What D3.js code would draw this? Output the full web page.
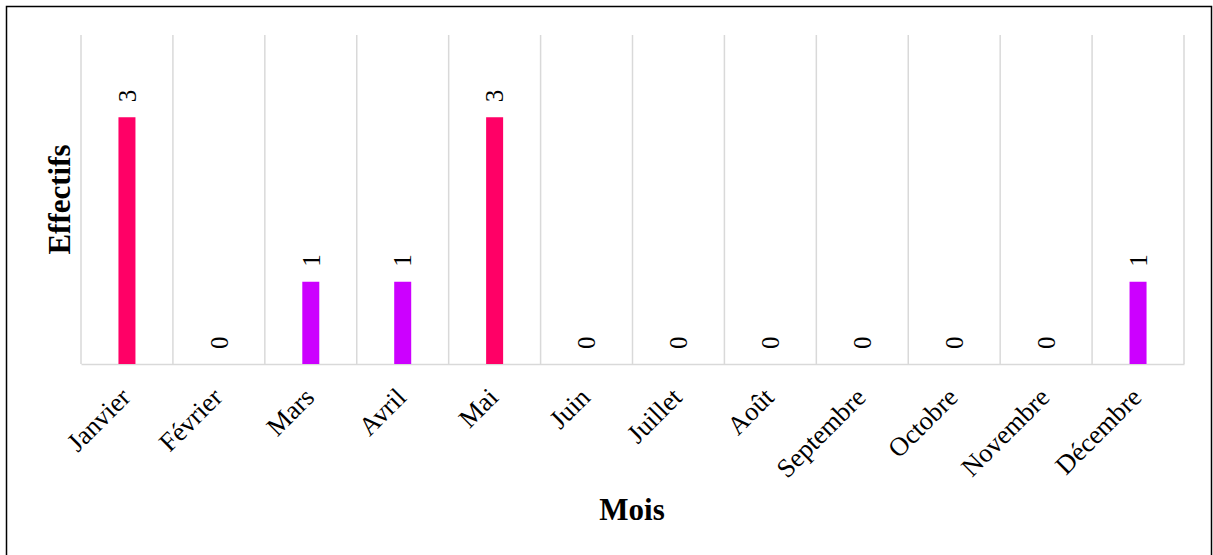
<!DOCTYPE html>
<html>
<head>
<meta charset="utf-8">
<script src="https://cdn.jsdelivr.net/npm/d3@7"></script>
<style>
  html, body { margin: 0; padding: 0; background: #fff; }
  svg { display: block; }
  svg text { font-family: "Liberation Serif", "Times New Roman", serif; fill: #000; }
</style>
</head>
<body>
<svg id="chart" width="1213" height="555"></svg>
<script>
// Effectifs par mois
const months = ["Janvier", "Février", "Mars", "Avril", "Mai", "Juin", "Juillet",
                "Août", "Septembre", "Octobre", "Novembre", "Décembre"];
const counts = [3, 0, 1, 1, 3, 0, 0, 0, 0, 0, 0, 1];
const countDomain = [0, 4];

const W = 1213, H = 555;
const plot = { left: 81, right: 1184, top: 35, bottom: 364 };
const serif = "Liberation Serif";

const svg = d3.select("#chart");

// outer frame
svg.append("rect")
  .attr("x", 6.5).attr("y", 6.5)
  .attr("width", 1205).attr("height", H + 10)
  .attr("fill", "none").attr("stroke", "#000").attr("stroke-width", 1.5);

const x = d3.scaleBand().domain(months).range([plot.left, plot.right]).padding(0);
const y = d3.scaleLinear().domain(countDomain).range([plot.bottom, plot.top]);

// bar colour by value
const colour = d3.scaleOrdinal().domain([3, 1]).range(["#FF0066", "#CC00FF"]);

// vertical gridlines at category boundaries
const bounds = months.map(m => x(m)).concat([x(months[months.length - 1]) + x.bandwidth()]);
svg.append("g").selectAll("line").data(bounds).join("line")
  .attr("x1", d => d).attr("x2", d => d)
  .attr("y1", y(countDomain[1])).attr("y2", y(0))
  .attr("stroke", "#d9d9d9").attr("stroke-width", 1.5);

// category axis
const xAxis = svg.append("g")
  .attr("transform", `translate(0,${y(0)})`)
  .call(d3.axisBottom(x).tickSize(0).tickPadding(0))
  .attr("font-family", serif)
  .attr("font-size", 26.5);
xAxis.select(".domain").attr("stroke", "#d9d9d9").attr("stroke-width", 1.5);
xAxis.selectAll(".tick text")
  .attr("text-anchor", "end")
  .attr("y", 0).attr("dy", 0)
  .attr("transform", "translate(5,35) rotate(-45)");

// bars
const barW = 17;
svg.append("g").selectAll("rect").data(counts).join("rect")
  .attr("x", (d, i) => x(months[i]) + x.bandwidth() / 2 - barW / 2)
  .attr("y", d => y(d))
  .attr("width", barW)
  .attr("height", d => y(0) - y(d))
  .attr("fill", d => colour(d));

// value labels, rotated
svg.append("g")
  .attr("font-family", serif)
  .attr("font-size", 25)
  .selectAll("text").data(counts).join("text")
  .attr("transform", (d, i) =>
    `translate(${x(months[i]) + x.bandwidth() / 2},${y(d) - 15}) rotate(-90)`)
  .attr("dy", "0.35em")
  .attr("text-anchor", "start")
  .text(d => d);

// axis titles
svg.append("text")
  .attr("transform", `translate(70,${(plot.top + plot.bottom) / 2}) rotate(-90)`)
  .attr("text-anchor", "middle")
  .attr("font-family", serif)
  .attr("font-size", 31).attr("font-weight", "bold")
  .text("Effectifs");

svg.append("text")
  .attr("x", 632).attr("y", 520)
  .attr("text-anchor", "middle")
  .attr("font-family", serif)
  .attr("font-size", 31).attr("font-weight", "bold")
  .text("Mois");
</script>
</body>
</html>
